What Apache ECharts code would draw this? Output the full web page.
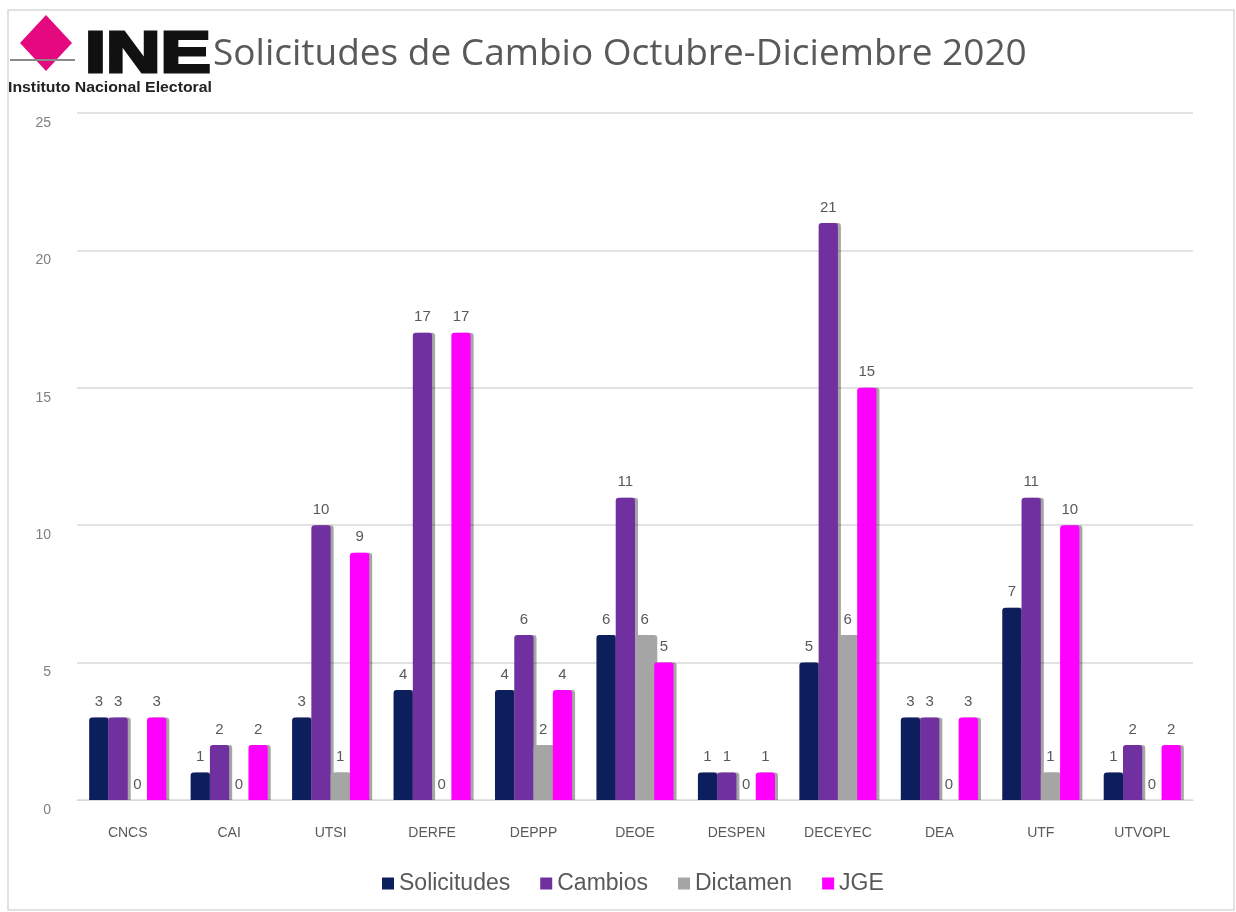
<!DOCTYPE html>
<html><head><meta charset="utf-8">
<script src="https://cdn.jsdelivr.net/npm/echarts@6/dist/echarts.min.js"></script>
<style>html,body{margin:0;padding:0;background:#fff}#c{width:1236px;height:912px}</style>
</head><body><div id="c"></div>
<script>
const categories = ['CNCS','CAI','UTSI','DERFE','DEPPP','DEOE','DESPEN','DECEYEC','DEA','UTF','UTVOPL'];
const solicitudes = [3,1,3,4,4,6,1,5,3,7,1];
const cambios = [3,2,10,17,6,11,1,21,3,11,2];
const dictamen = [0,0,1,0,2,6,0,6,0,1,0];
const jge = [3,2,9,17,4,5,1,15,3,10,2];
const seriesNames = ['Solicitudes','Cambios','Dictamen','JGE'];
const yTicks = [0,5,10,15,20,25];

const colors = ['#0c1e5b','#7030a0','#a5a5a5','#ff00ff'];
const chart = echarts.init(document.getElementById('c'));
const lbl = {show:true, position:'top', distance:8, color:'#595959', fontSize:15, fontFamily:'Liberation Sans'};
function mk(name, data, i){
  return {name, type:'bar', data, barGap:'0%', barCategoryGap:'24%',
    itemStyle:{color:colors[i], borderRadius:[3,3,0,0], shadowColor:'rgba(0,0,0,0.35)', shadowOffsetX:3, shadowOffsetY:0, shadowBlur:0},
    label:lbl};
}
chart.setOption({
  animation:false,
  color:colors,
  grid:{left:77, right:43, top:113, bottom:112},
  legend:{data:seriesNames, bottom:12, left:377, itemWidth:12, itemHeight:12, itemGap:30,
    icon:'rect', textStyle:{color:'#595959', fontSize:23, fontFamily:'Liberation Sans'}},
  xAxis:{type:'category', data:categories,
    axisLine:{lineStyle:{color:'#d9d9d9'}}, axisTick:{show:false},
    axisLabel:{color:'#595959', fontSize:14, margin:26, fontFamily:'Liberation Sans'}},
  yAxis:{type:'value', min:yTicks[0], max:yTicks[yTicks.length-1], interval:5,
    axisLine:{show:false}, axisTick:{show:false},
    splitLine:{lineStyle:{color:'#d9d9d9', width:1.5}},
    axisLabel:{color:'#7f7f7f', fontSize:14, margin:26, fontFamily:'Liberation Sans', verticalAlign:'top', padding:[3,0,0,0]}},
  graphic:[
    {type:'rect', shape:{x:8,y:10,width:1226,height:900}, style:{fill:'none', stroke:'#d9d9d9', lineWidth:1.5}, silent:true},
    {type:'polygon', shape:{points:[[46,15],[72,43],[46,71],[20,43]]}, style:{fill:'#e5097f'}},
    {type:'rect', shape:{x:10,y:59,width:65,height:2}, style:{fill:'#8a8a8a'}},
    {type:'text', x:85, y:27, scaleX:1.3, style:{text:'INE', fill:'#111', stroke:'#111', lineWidth:3, font:'900 58px "Liberation Sans"'}},
    {type:'text', x:8, y:81, scaleX:1.13, style:{text:'Instituto Nacional Electoral', fill:'#222', font:'bold 14px "Liberation Sans"'}},
    {type:'text', left:213, top:36, style:{text:'Solicitudes de Cambio Octubre-Diciembre 2020', fill:'#595959', font:'37px "Open Sans"'}}
  ],
  series:[mk(seriesNames[0],solicitudes,0), mk(seriesNames[1],cambios,1), mk(seriesNames[2],dictamen,2), mk(seriesNames[3],jge,3)]
});
</script></body></html>
